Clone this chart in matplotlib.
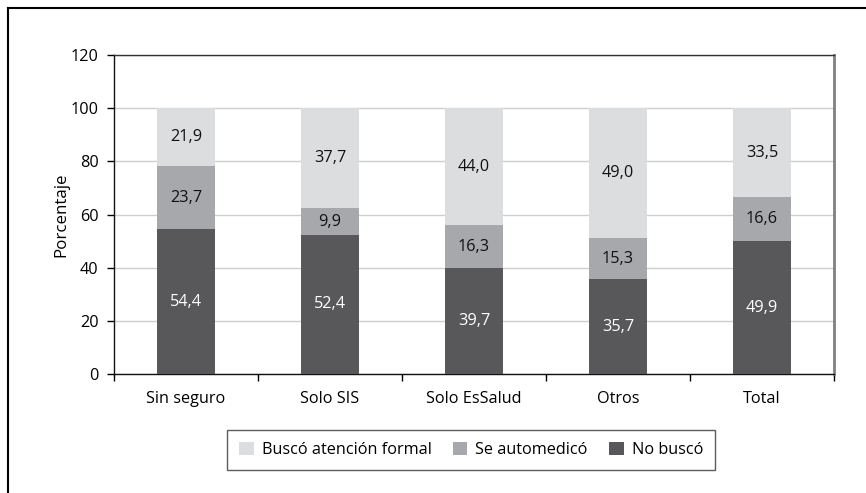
import matplotlib.pyplot as plt
from matplotlib.lines import Line2D
import numpy as np

plt.rcParams['font.family'] = ['Open Sans', 'DejaVu Sans']

categorias = ['Sin seguro', 'Solo SIS', 'Solo EsSalud', 'Otros', 'Total']
no_busco = [54.4, 52.4, 39.7, 35.7, 49.9]
automedico = [23.7, 9.9, 16.3, 15.3, 16.6]
atencion_formal = [21.9, 37.7, 44.0, 49.0, 33.5]

c_formal = '#dcdddf'
c_auto = '#a7a8ab'
c_no = '#58585a'

fig = plt.figure(figsize=(8.66, 4.93), dpi=100)
ax = fig.add_axes([0.1316, 0.2414, 0.963 - 0.1316, 0.8884 - 0.2414])

x = np.arange(len(categorias))
w = 0.4
b1 = ax.bar(x, no_busco, w, color=c_no, label='No buscó', zorder=3)
base2 = np.array(no_busco)
b2 = ax.bar(x, automedico, w, bottom=base2, color=c_auto, label='Se automedicó', zorder=3)
base3 = base2 + np.array(automedico)
b3 = ax.bar(x, atencion_formal, w, bottom=base3, color=c_formal,
            label='Buscó atención formal', zorder=3)

fs = 11.7
for bars, vals, col in [(b1, no_busco, 'white'), (b2, automedico, '#111111'),
                        (b3, atencion_formal, '#111111')]:
    labels = [f'{v:.1f}'.replace('.', ',') for v in vals]
    ax.bar_label(bars, labels=labels, label_type='center', color=col, fontsize=fs)

ax.set_xlim(-0.5, len(categorias) - 0.5)
ax.set_ylim(0, 120)
ax.set_yticks(range(0, 121, 20))
ax.yaxis.grid(True, color='#cfcfcf', linewidth=1, zorder=0)
ax.set_axisbelow(True)

ax.set_xticks(x)
ax.set_xticklabels(categorias, fontsize=fs)
ax.tick_params(axis='x', which='major', length=0, pad=12)
ax.set_xticks(np.arange(-0.5, len(categorias), 1), minor=True)
ax.tick_params(axis='x', which='minor', length=5, width=1, direction='out')
ax.tick_params(axis='y', length=5, width=1, direction='out', labelsize=fs, pad=6)

ax.set_ylabel('Porcentaje', fontsize=fs + 0.5, labelpad=1)

for s in ['left', 'bottom']:
    ax.spines[s].set_color('#111111')
    ax.spines[s].set_linewidth(1)
ax.spines['top'].set_color('#333333')
ax.spines['top'].set_linewidth(1)
ax.spines['right'].set_color('#808080')
ax.spines['right'].set_linewidth(2)

handles = [b3, b2, b1]
leg = fig.legend(handles, [h.get_label() for h in handles], loc='center',
                 bbox_to_anchor=(471 / 866, 1 - 450 / 493), ncol=3, fontsize=fs,
                 frameon=True, fancybox=False, edgecolor='#333333',
                 handlelength=0.9, handleheight=0.9, handletextpad=0.5,
                 columnspacing=1.3, borderpad=0.75)
leg.get_frame().set_linewidth(1)

# outer frame (left and top visible)
fig.add_artist(Line2D([8 / 866, 8 / 866], [0, 1 - 8 / 493], color='black',
                      linewidth=1.5, transform=fig.transFigure))
fig.add_artist(Line2D([8 / 866, 1], [1 - 8 / 493, 1 - 8 / 493], color='black',
                      linewidth=1.5, transform=fig.transFigure))

fig.savefig('out.png', dpi=100)
